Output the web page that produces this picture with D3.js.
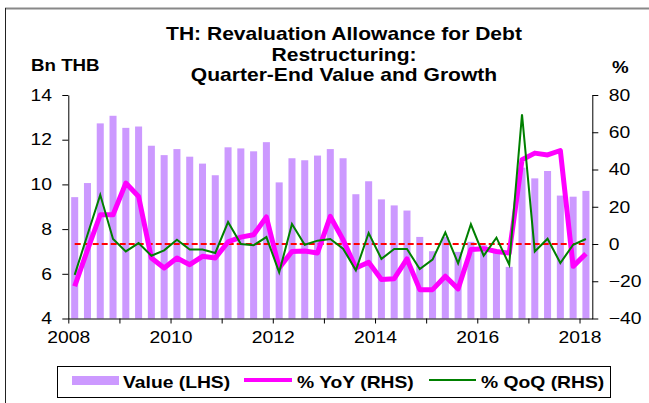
<!DOCTYPE html>
<html lang="en">
<head>
<meta charset="utf-8" />
<script src="https://d3js.org/d3.v7.min.js"></script>
<style>
  body { margin: 0; background: #fff; }
  text { font-family: Arial, "Liberation Sans", sans-serif; fill: #000; }
  .axis path, .axis line { stroke: #000; stroke-width: 1; }
  .axis text { font-size: 16.5px; }
</style>
</head>
<body>
<div id="chart"></div>
<script>
// quarter-end categories, 2008Q1 .. 2018Q1
var quarters = [
  "2008Q1","2008Q2","2008Q3","2008Q4","2009Q1","2009Q2","2009Q3","2009Q4",
  "2010Q1","2010Q2","2010Q3","2010Q4","2011Q1","2011Q2","2011Q3","2011Q4",
  "2012Q1","2012Q2","2012Q3","2012Q4","2013Q1","2013Q2","2013Q3","2013Q4",
  "2014Q1","2014Q2","2014Q3","2014Q4","2015Q1","2015Q2","2015Q3","2015Q4",
  "2016Q1","2016Q2","2016Q3","2016Q4","2017Q1","2017Q2","2017Q3","2017Q4",
  "2018Q1"
];

// Bn THB
var value = [9.43, 10.06, 12.73, 13.07, 12.53, 12.59, 11.73, 11.31, 11.58, 11.24,
  10.93, 10.41, 11.66, 11.61, 11.48, 11.89, 10.09, 11.17, 11.08, 11.29,
  11.58, 11.17, 9.56, 10.14, 9.33, 9.06, 8.83, 7.65, 7.01, 7.65,
  6.98, 7.43, 7.28, 7.06, 6.31, 10.75, 10.27, 10.6, 9.5, 9.45, 9.71];

// % YoY
var yoy = [-22.7, -3.2, 15.7, 15.7, 32.7, 25.5, -7.5, -12.9, -7.5, -11.1,
  -6.6, -7.5, 1.1, 3.7, 5, 14.5, -12.9, -4, -3.8, -4.8,
  14.8, 2.3, -12.9, -9.8, -19.1, -18.6, -8, -24.5, -24.5, -17.3,
  -24.1, -3, -2.5, -4, -4.9, 45.2, 48.8, 47.8, 50.2, -12, -5.2];

// % QoQ
var qoq = [-16.6, 5, 26.4, 2.7, -4, 0.5, -6.3, -3.4, 2.3, -3,
  -3, -4.8, 11.8, 0, -0.7, 3.7, -15.2, 10.7, -0.4, 1.8,
  2.7, -2.5, -14.1, 5.9, -8, -2.7, -2.7, -13.4, -8.4, 6.2,
  -10.4, 10.6, -6.3, 3.4, -11.1, 69.6, -4, 2.8, -10.2, -0.4, 2.7];

var yearTicks = [2008, 2009, 2010, 2011, 2012, 2013, 2014, 2015, 2016, 2017, 2018];
var leftTicks = [4, 6, 8, 10, 12, 14];
var rightTicks = [-40, -20, 0, 20, 40, 60, 80];

var width = 649, height = 403;
var plotL = 68.3, plotR = 592.3, plotT = 95, plotB = 318.5;
var sx = 1.17; // the source picture is a little wide

var svg = d3.select('#chart').append('svg')
  .attr('width', width)
  .attr('height', height);

// frame
svg.append('line').attr('x1', 5).attr('x2', width).attr('y1', 8.5).attr('y2', 8.5)
  .attr('stroke', '#888').attr('stroke-width', 2);
svg.append('line').attr('x1', 5.5).attr('x2', 5.5).attr('y1', 8).attr('y2', height)
  .attr('stroke', '#222').attr('stroke-width', 1);

var x = d3.scaleBand().domain(quarters).range([plotL, plotR])
  .paddingInner(0.45).paddingOuter(0.225);
var xYear = d3.scaleLinear().domain([2008, 2018.25]).range([plotL, plotR]);
var yL = d3.scaleLinear().domain([4, 14]).range([plotB, plotT]);
var yR = d3.scaleLinear().domain([-40, 80]).range([plotB, plotT]);

function cx(i) { return x(quarters[i]) + x.bandwidth() / 2; }

function label(str, px, py, size, anchor, bold) {
  svg.append('g').attr('transform', 'translate(' + px + ',' + py + ') scale(' + sx + ',1)')
    .append('text')
    .attr('text-anchor', anchor)
    .style('font-size', size + 'px')
    .style('font-weight', bold ? 'bold' : 'normal')
    .text(str);
}

// title
label('TH: Revaluation Allowance for Debt', 344, 40, 18, 'middle', true);
label('Restructuring:', 344, 61, 18, 'middle', true);
label('Quarter-End Value and Growth', 344, 81, 18, 'middle', true);
label('Bn THB', 31, 71, 16, 'start', true);
label('%', 612, 73, 16, 'start', true);

// bars
svg.append('g').selectAll('rect')
  .data(value)
  .enter().append('rect')
  .attr('x', function(d, i) { return x(quarters[i]); })
  .attr('width', x.bandwidth())
  .attr('y', function(d) { return yL(d); })
  .attr('height', function(d) { return yL(4) - yL(d); })
  .attr('fill', '#CC99FF');

// zero reference on the right scale
svg.append('line')
  .attr('x1', cx(0)).attr('x2', cx(quarters.length - 1))
  .attr('y1', yR(0)).attr('y2', yR(0))
  .attr('stroke', '#FF0000').attr('stroke-width', 2)
  .attr('stroke-dasharray', '6,3');

var lineR = d3.line()
  .x(function(d, i) { return cx(i); })
  .y(function(d) { return yR(d); });

svg.append('path').datum(yoy)
  .attr('d', lineR)
  .attr('fill', 'none')
  .attr('stroke', '#FF00FF')
  .attr('stroke-width', 5)
  .attr('stroke-linejoin', 'round');

svg.append('path').datum(qoq)
  .attr('d', lineR)
  .attr('fill', 'none')
  .attr('stroke', '#008000')
  .attr('stroke-width', 2);

// axes
var gl = svg.append('g').attr('class', 'axis')
  .attr('transform', 'translate(' + plotL + ',0)')
  .call(d3.axisLeft(yL).tickValues(leftTicks).tickSize(6).tickSizeOuter(0).tickPadding(8));
var gr = svg.append('g').attr('class', 'axis')
  .attr('transform', 'translate(' + plotR + ',0)')
  .call(d3.axisRight(yR).tickValues(rightTicks).tickSize(6).tickSizeOuter(0).tickPadding(8));
var gb = svg.append('g').attr('class', 'axis')
  .attr('transform', 'translate(0,' + plotB + ')')
  .call(d3.axisBottom(xYear).tickValues(yearTicks).tickSize(5).tickSizeOuter(0).tickPadding(8)
    .tickFormat(function(d) { return d % 2 === 0 ? d : ''; }));

[gl, gr, gb].forEach(function(g) {
  g.selectAll('text').attr('transform', 'scale(' + sx + ',1)');
});

// legend
var lg = svg.append('g');
lg.append('rect').attr('x', 57.5).attr('y', 366.5).attr('width', 553).attr('height', 31)
  .attr('fill', '#fff').attr('stroke', '#000').attr('stroke-width', 1);
lg.append('rect').attr('x', 72).attr('y', 376).attr('width', 47).attr('height', 9)
  .attr('fill', '#CC99FF');
lg.append('line').attr('x1', 244).attr('x2', 292).attr('y1', 380).attr('y2', 380)
  .attr('stroke', '#FF00FF').attr('stroke-width', 4);
lg.append('line').attr('x1', 429).attr('x2', 476).attr('y1', 380).attr('y2', 380)
  .attr('stroke', '#008000').attr('stroke-width', 2);
label('Value (LHS)', 123, 387.5, 16.5, 'start', true);
label('% YoY (RHS)', 297, 387.5, 16.5, 'start', true);
label('% QoQ (RHS)', 481, 387.5, 16.5, 'start', true);
</script>
</body>
</html>
